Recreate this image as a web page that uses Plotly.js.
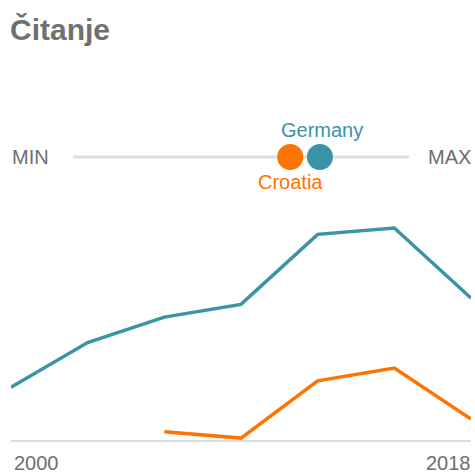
<!DOCTYPE html>
<html>
<head>
<meta charset="utf-8">
<script src="https://cdn.plot.ly/plotly-3.0.1.min.js"></script>
<style>html,body{margin:0;padding:0;background:#fff;}#chart{width:475px;height:475px;}</style>
</head>
<body>
<div id="chart"></div>
<script>
// Data
var years = [2000, 2003, 2006, 2009, 2012, 2015, 2018];
var germany = [484, 491, 495, 497, 508, 509, 498];
var croatia = [null, null, 477, 476, 485, 487, 479];
var countries = ["Croatia", "Germany"];
var latestScores = [479, 498];
var scaleMin = 340;
var scaleMax = 555;
var scaleLabels = ["MIN", "MAX"];
var yearLabels = ["2000", "2018"];

var orange = "#FF7300";
var teal = "#3A93A6";
var colors = [orange, teal];
var gray = "#6e6e6e";
var font = "Liberation Sans, Arial, sans-serif";

var traces = [
  {x: years, y: germany, type: "scatter", mode: "lines", line: {color: teal, width: 3.5}, xaxis: "x", yaxis: "y", connectgaps: false},
  {x: years, y: croatia, type: "scatter", mode: "lines", line: {color: orange, width: 3.5}, xaxis: "x", yaxis: "y", connectgaps: false},
  {x: [scaleMin, scaleMax], y: [0, 0], type: "scatter", mode: "lines", line: {color: "#dddddd", width: 3}, xaxis: "x2", yaxis: "y2"},
  {x: latestScores, y: [0, 0], type: "scatter", mode: "markers", marker: {color: colors, size: 26, line: {width: 0}}, xaxis: "x2", yaxis: "y2"}
];

var annotations = [
  {text: scaleLabels[0], xref: "paper", yref: "y2", x: 10/475, y: 0, xanchor: "left", yanchor: "middle", showarrow: false, font: {family: font, size: 20, color: gray}},
  {text: scaleLabels[1], xref: "paper", yref: "y2", x: 473/475, y: 0, xanchor: "right", yanchor: "middle", showarrow: false, font: {family: font, size: 20, color: gray}},
  {text: countries[1], xref: "x2", yref: "y2", x: latestScores[1], y: 0, xanchor: "center", yanchor: "middle", yshift: 27, xshift: 2, showarrow: false, font: {family: font, size: 20, color: teal}},
  {text: countries[0], xref: "x2", yref: "y2", x: latestScores[0], y: 0, xanchor: "center", yanchor: "middle", yshift: -25, showarrow: false, font: {family: font, size: 20, color: orange}},
  {text: yearLabels[0], xref: "x", yref: "paper", x: years[0], y: 1 - 463/475, xanchor: "left", yanchor: "middle", xshift: 1, showarrow: false, font: {family: font, size: 20, color: gray}},
  {text: yearLabels[1], xref: "x", yref: "paper", x: years[years.length - 1], y: 1 - 463/475, xanchor: "right", yanchor: "middle", xshift: 2, showarrow: false, font: {family: font, size: 20, color: gray}}
];

var layout = {
  width: 475, height: 475,
  margin: {l: 0, r: 0, t: 0, b: 0, pad: 0},
  paper_bgcolor: "#ffffff", plot_bgcolor: "rgba(0,0,0,0)",
  showlegend: false,
  title: {text: "<b>Čitanje</b>", x: 10/475, xanchor: "left", xref: "paper", y: 1 - 29/475, yanchor: "middle", yref: "container", font: {family: font, size: 30, color: "#707070"}},
  xaxis: {domain: [11/475, 471/475], range: [2000, 2018], showgrid: false, zeroline: false, showticklabels: false, ticks: "", showline: true, linecolor: "#dddddd", linewidth: 2, anchor: "y"},
  yaxis: {domain: [1 - 440/475, 1 - 200/475], range: [475.7, 513.4], showgrid: false, zeroline: false, showticklabels: false, ticks: "", showline: false},
  xaxis2: {domain: [73/475, 409/475], range: [scaleMin, scaleMax], showgrid: false, zeroline: false, showticklabels: false, ticks: "", showline: false, anchor: "y2"},
  yaxis2: {domain: [1 - 207/475, 1 - 107/475], range: [-1, 1], showgrid: false, zeroline: false, showticklabels: false, ticks: "", showline: false, anchor: "x2"},
  annotations: annotations
};

Plotly.newPlot("chart", traces, layout, {staticPlot: true, displayModeBar: false});
</script>
</body>
</html>
